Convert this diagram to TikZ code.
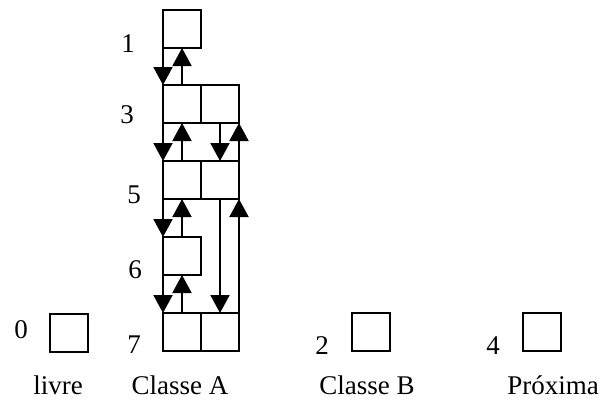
\documentclass[tikz,border=0pt]{standalone}
\usepackage{fontspec}
\setmainfont{Liberation Serif}
\usetikzlibrary{arrows.meta}

\tikzset{
  cell/.style={draw,line width=2.2pt,minimum size=38pt,inner sep=0pt,outer sep=0pt},
  num/.style={inner sep=0pt},
  caption/.style={inner sep=0pt,anchor=base},
  link/.style={line width=2pt,-{Triangle[width=19pt,length=18pt]}}
}

\begin{document}
\begin{tikzpicture}[x=1pt,y=-1pt,font=\fontsize{27}{31}\selectfont]
\useasboundingbox (0,0) rectangle (605,402);

\node[cell] (box1)  at (182,29)  {};
\node[cell] (box3l) at (182,104) {};
\node[cell] (box3r) at (220,104) {};
\node[cell] (box5l) at (182,180) {};
\node[cell] (box5r) at (220,180) {};
\node[cell] (box6)  at (182,256) {};
\node[cell] (box7l) at (182,332) {};
\node[cell] (box7r) at (220,332) {};
\node[cell] (box0)  at (69,333)  {};
\node[cell] (box2)  at (371,332) {};
\node[cell] (box4)  at (542,332) {};

\node[num] (n1) at (128,44)  {1};
\node[num] (n3) at (127,115) {3};
\node[num] (n5) at (134,195) {5};
\node[num] (n6) at (135,270) {6};
\node[num] (n7) at (134,345) {7};
\node[num] (n0) at (21,330)  {0};
\node[num] (n2) at (322,346) {2};
\node[num] (n4) at (493,346) {4};

\node[caption] (livre)   at (58,394)  {livre};
\node[caption] (classeA) at (180,394) {Classe A};
\node[caption] (classeB) at (367,394) {Classe B};
\node[caption] (proxima) at (553,394) {Próxima};

\draw[link] (box1.south west) -- (box3l.north west);
\draw[link] (box3l.north) -- (box1.south);
\draw[link] (box3l.south west) -- (box5l.north west);
\draw[link] (box5l.north) -- (box3l.south);
\draw[link] (box3r.south) -- (box5r.north);
\draw[link] (box5r.north east) -- (box3r.south east);
\draw[link] (box5l.south west) -- (box6.north west);
\draw[link] (box6.north) -- (box5l.south);
\draw[link] (box6.south west) -- (box7l.north west);
\draw[link] (box7l.north) -- (box6.south);
\draw[link] (box5r.south) -- (box7r.north);
\draw[link] (box7r.north east) -- (box5r.south east);
\end{tikzpicture}
\end{document}
